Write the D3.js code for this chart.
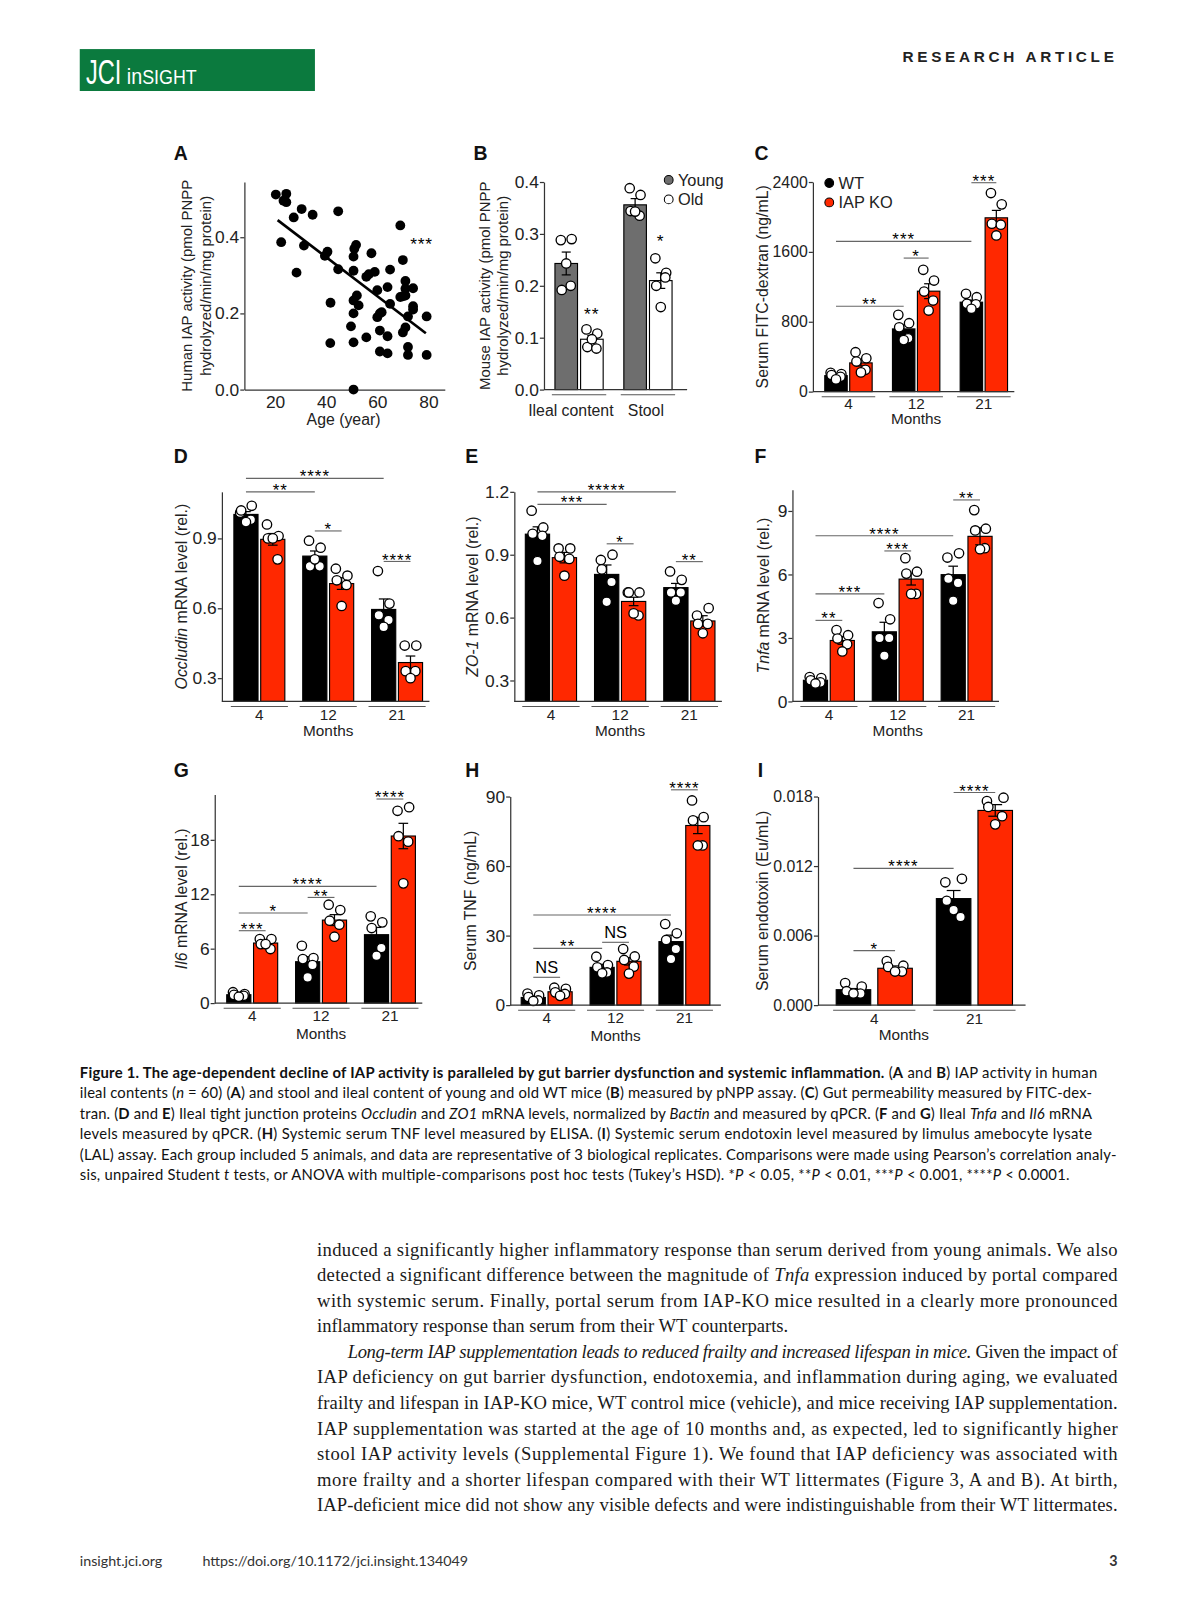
<!DOCTYPE html>
<html><head><meta charset="utf-8">
<script src="https://cdn.jsdelivr.net/npm/d3@7/dist/d3.min.js"></script>
<style>
html,body{margin:0;padding:0;background:#fff;overflow:hidden;}
svg{display:block;}
</style></head><body>
<svg id="page" width="1195" height="1600" font-family="'Liberation Sans',Arial,sans-serif"></svg>
<script>
// ---------------- DATA ----------------
// Panel A: human IAP activity vs age
const ageYears = [20.3,24.4,23.3,24.4,30.4,27.3,34.7,44.7,22.4,31.3,28.4,40.5,39.5,44.7,41.7,41.6,51.0,51.7,50.7,50.7,50.7,52.0,50.7,52.7,49.7,50.7,50.7,55.7,57.7,55.7,56.7,59.0,60.0,64.0,65.0,60.0,61.0,61.7,61.0,64.0,65.0,61.0,64.0,69.0,70.0,69.0,71.0,71.0,71.0,74.0,74.0,74.0,72.0,71.0,70.0,72.0,72.0,79.3,79.3,70.0];
const humanIAP = [0.512,0.514,0.496,0.492,0.474,0.452,0.459,0.468,0.387,0.378,0.307,0.362,0.351,0.316,0.228,0.122,0.370,0.380,0.349,0.312,0.234,0.247,0.200,0.221,0.166,0.124,0.000,0.137,0.358,0.296,0.303,0.309,0.261,0.269,0.315,0.190,0.200,0.203,0.155,0.140,0.225,0.100,0.095,0.431,0.340,0.243,0.285,0.265,0.247,0.266,0.219,0.210,0.192,0.163,0.150,0.112,0.091,0.192,0.091,0.245];
const fitAge = [21, 79];
const fitIAP = [0.445, 0.148];
const aXTicks = [20, 40, 60, 80];
const aYTicks = [0, 0.2, 0.4];

// Panel B: mouse IAP activity
const bGroups = ["Ileal content", "Stool"];
const bSeries = ["Young", "Old"];
const bYoungMean = [0.243, 0.356];
const bYoungSem = [0.022, 0.012];
const bYoungPts = [[0.288,0.290,0.192,0.200,0.243],[0.388,0.375,0.344,0.335,0.343]];
const bOldMean = [0.097, 0.210];
const bOldSem = [0.007, 0.015];
const bOldPts = [[0.116,0.108,0.082,0.079,0.097],[0.253,0.225,0.200,0.216,0.159]];
const bStars = [["Ileal content","Old",0.147,"**"],["Stool","Old",0.288,"*"]];
const bTicks = [0, 0.1, 0.2, 0.3, 0.4];

// Shared categories
const monthGroups = ["4", "12", "21"];
const monthGroupsI = ["4", "21"];
const genotypes = ["WT", "IAP KO"];

// Panel C: FITC-dextran
const fitcWTMean = [183, 718, 1024];
const fitcWTSem = [12, 45, 25];
const fitcWTPts = [[215,200,190,170,140],[879,783,737,611,590],[1120,1081,1005,1000,948]];
const fitcKOMean = [329, 1150, 1990];
const fitcKOSem = [35, 85, 85];
const fitcKOPts = [[451,382,344,250,220],[1395,1272,1146,1043,928],[2274,2144,1922,1911,1788]];
const fitcSig = [["4","WT","12","WT",978,"**"],["12","WT","12","IAP KO",1529,"*"],["4","WT","21","WT",1720,"***"],["21","WT","21","IAP KO",2392,"***"]];
const fitcTicks = [0, 800, 1600, 2400];

// Panel D: Occludin
const occWTMean = [1.003, 0.824, 0.595];
const occWTSem = [0.012, 0.022, 0.045];
const occWTPts = [[1.01,1.04,1.02,0.98,0.97],[0.89,0.86,0.78,0.78,0.81],[0.76,0.62,0.57,0.55,0.52]];
const occKOMean = [0.896, 0.706, 0.367];
const occKOSem = [0.025, 0.025, 0.028];
const occKOPts = [[0.96,0.91,0.90,0.81,0.90],[0.77,0.74,0.72,0.70,0.61],[0.44,0.44,0.33,0.33,0.30]];
const occSig = [["4","WT","12","WT",1.10,"**"],["4","WT","21","WT",1.158,"****"],["12","WT","12","IAP KO",0.932,"*"],["21","WT","21","IAP KO",0.801,"****"]];
const occTicks = [0.3, 0.6, 0.9];

// Panel E: ZO-1
const zoWTMean = [0.998, 0.806, 0.743];
const zoWTSem = [0.035, 0.045, 0.02];
const zoWTPts = [[1.11,1.03,1.00,0.99,0.87],[0.875,0.90,0.83,0.77,0.675],[0.82,0.78,0.72,0.72,0.68]];
const zoKOMean = [0.886, 0.677, 0.584];
const zoKOSem = [0.025, 0.02, 0.025];
const zoKOPts = [[0.93,0.93,0.89,0.88,0.80],[0.72,0.72,0.72,0.61,0.62],[0.61,0.645,0.57,0.57,0.525]];
const zoSig = [["4","WT","12","WT",1.14,"***"],["4","WT","21","WT",1.2,"*****"],["12","WT","12","IAP KO",0.952,"*"],["21","WT","21","IAP KO",0.867,"**"]];
const zoTicks = [0.3, 0.6, 0.9, 1.2];

// Panel F: Tnfa
const tnfaWTMean = [1.0, 3.29, 5.99];
const tnfaWTSem = [0.06, 0.45, 0.4];
const tnfaWTPts = [[1.15,1.1,1.0,0.9,0.85],[4.65,3.88,3.0,3.0,2.16],[6.8,7.0,5.8,5.6,4.76]];
const tnfaKOMean = [2.88, 5.78, 7.8];
const tnfaKOSem = [0.18, 0.28, 0.4];
const tnfaKOPts = [[3.37,3.13,2.97,2.7,2.36],[6.77,6.13,6.04,5.08,5.08],[9.04,8.16,8.08,7.24,7.19]];
const tnfaSig = [["4","WT","4","IAP KO",3.83,"**"],["4","WT","12","WT",5.08,"***"],["12","WT","12","IAP KO",7.11,"***"],["4","WT","21","WT",7.83,"****"],["21","WT","21","IAP KO",9.52,"**"]];
const tnfaTicks = [0, 3, 6, 9];

// Panel G: Il6
const il6WTMean = [0.92, 4.56, 7.54];
const il6WTSem = [0.08, 0.55, 0.8];
const il6WTPts = [[1.2,1.0,0.9,0.8,0.7],[6.32,4.96,4.85,4.19,2.83],[9.56,8.9,8.27,6.07,5.22]];
const il6KOMean = [6.62, 9.15, 18.42];
const il6KOSem = [0.25, 0.6, 1.4];
const il6KOPts = [[7.06,7.06,6.5,5.96,6.5],[10.85,10.26,9.08,8.64,7.32],[21.2,21.6,18.4,17.8,13.2]];
const il6Sig = [["4","WT","4","IAP KO",7.98,"***"],["4","WT","12","WT",9.93,"*"],["12","WT","12","IAP KO",11.65,"**"],["4","WT","21","WT",12.87,"****"],["21","WT","21","IAP KO",22.5,"****"]];
const il6Ticks = [0, 6, 12, 18];

// Panel H: serum TNF
const tnfWTMean = [3.3, 16.3, 27.4];
const tnfWTSem = [0.6, 1.3, 2.8];
const tnfWTPts = [[5.0,4.2,3.5,2.0,1.8],[20.9,17.3,16.3,14.1,13.7],[35,31,28.1,24.2,19.9]];
const tnfKOMean = [5.76, 18.9, 77.5];
const tnfKOSem = [0.6, 1.6, 3.5];
const tnfKOPts = [[7.5,7.0,5.5,4.8,4.0],[24.2,21.0,19.5,16.6,13.6],[88.3,81.1,79.7,68.9,68.9]];
const tnfSig = [["4","WT","4","IAP KO",12,"NS"],["4","WT","12","WT",24.5,"**"],["12","WT","12","IAP KO",27.1,"NS"],["4","WT","21","WT",38.9,"****"],["21","WT","21","IAP KO",92.9,"****"]];
const tnfTicks = [0, 30, 60, 90];

// Panel I: serum endotoxin
const endoWTMean = [0.00133, 0.00919];
const endoWTSem = [0.0001, 0.0007];
const endoWTPts = [[0.0019,0.0016,0.0012,0.0010,0.0010],[0.0106,0.0109,0.0090,0.0076,0.0082]];
const endoKOMean = [0.00318, 0.0168];
const endoKOSem = [0.0002, 0.0005];
const endoKOPts = [[0.0038,0.0034,0.0033,0.0029,0.0029],[0.0176,0.0179,0.0171,0.0163,0.0156]];
const endoSig = [["4","WT","4","IAP KO",0.0047,"*"],["4","WT","21","WT",0.0118,"****"],["21","WT","21","IAP KO",0.01835,"****"]];
const endoTicks = [0, 0.006, 0.012, 0.018];

// ---------------- STYLE ----------------
const RED = "#ff2800", BLACK = "#000", GRAY = "#6e6e6e", WHITE = "#fff";
const FONT = "'Liberation Sans',Arial,sans-serif";
const JIT = [-0.24, 0.24, -0.2, 0.2, 0];
const PAGE_SCALE = 1.0225;

const svg = d3.select("#page").append("g").attr("transform", `scale(${PAGE_SCALE})`);

function rich(sel, parts) {
  parts.forEach(p => {
    const t = sel.append("tspan").text(p[0]);
    if (p[1] && p[1].includes("b")) t.attr("font-weight", "bold");
    if (p[1] && p[1].includes("i")) t.attr("font-style", "italic");
  });
}
function styleAxis(g, fs) {
  g.attr("font-size", fs || 17).attr("font-family", FONT);
  g.selectAll("text").attr("fill", "#222");
  g.selectAll("line,path").attr("stroke", "#333").attr("stroke-width", 1.2);
}
function yTitle(lines, yc, fs) {
  lines.forEach(l => {
    const t = svg.append("text").attr("transform", `translate(${l.x},${yc}) rotate(-90)`)
      .attr("text-anchor", "middle").attr("dominant-baseline", "central")
      .attr("font-size", fs || 15.5).attr("fill", "#222");
    rich(t, l.parts);
  });
}
function panelLetter(s, x, y) {
  svg.append("text").attr("x", x).attr("y", y).text(s).attr("font-size", 19).attr("font-weight", "bold").attr("fill", "#111");
}

// ---------------- HEADER ----------------
svg.append("rect").attr("x", 78).attr("y", 48).attr("width", 230).attr("height", 41).attr("fill", "#0b7a3e");
svg.append("text").attr("transform", "translate(84,82) scale(0.68,1)").attr("font-size", 34).attr("fill", "#fff").text("JCI");
svg.append("text").attr("transform", "translate(124,82) scale(0.92,1)").attr("font-size", 21).attr("fill", "#fff")
  .call(t => { t.append("tspan").text("in"); t.append("tspan").attr("font-size", 19).text("SIGHT"); });
svg.append("text").attr("x", 1093).attr("y", 61).attr("text-anchor", "end").attr("font-size", 15).attr("font-weight", "bold")
  .attr("letter-spacing", 3.6).attr("fill", "#222").text("RESEARCH ARTICLE");

// ---------------- PANEL A ----------------
(function () {
  const L = { ox: 239, oy: 381, top: 178, right: 435 };
  const x = d3.scaleLinear().domain([8, 86.4]).range([L.ox, L.right]);
  const y = d3.scaleLinear().domain([0, 0.545]).range([L.oy, L.top]);
  const ga = svg.append("g").attr("transform", `translate(${L.ox},0)`)
    .call(d3.axisLeft(y).tickValues(aYTicks).tickFormat(d3.format(".1f")).tickSize(4).tickSizeOuter(0).tickPadding(1));
  styleAxis(ga);
  const gx = svg.append("g").attr("transform", `translate(0,${L.oy})`)
    .call(d3.axisBottom(x).tickValues(aXTicks).tickSize(0).tickSizeOuter(0).tickPadding(6));
  styleAxis(gx);
  svg.append("g").selectAll("circle").data(ageYears).join("circle")
    .attr("cx", (d) => x(d)).attr("cy", (d, i) => y(humanIAP[i])).attr("r", 4.8).attr("fill", "#000");
  svg.append("line").attr("x1", x(fitAge[0])).attr("y1", y(fitIAP[0])).attr("x2", x(fitAge[1])).attr("y2", y(fitIAP[1]))
    .attr("stroke", "#000").attr("stroke-width", 2.6);
  svg.append("text").attr("x", x(77.3)).attr("y", y(0.384) + 7).attr("text-anchor", "middle").attr("font-size", 17).attr("letter-spacing", 0.8).text("***");
  svg.append("text").attr("x", (x(20) + x(80)) / 2 - 8).attr("y", L.oy + 35).attr("text-anchor", "middle").attr("font-size", 15.5).attr("fill", "#222").text("Age (year)");
  yTitle([{ x: 182, parts: [["Human IAP activity (pmol PNPP"]] }, { x: 200, parts: [["hydrolyzed/min/mg protein)"]] }], (L.oy + L.top) / 2, 14.6);
  panelLetter("A", 170, 156);
})();

// ---------------- GENERIC BAR PANEL ----------------
function barPanel(c) {
  const y = d3.scaleLinear().domain(c.domain).range([c.oy, c.top]);
  const x0 = d3.scaleBand().domain(c.groups).range(c.band).paddingInner(c.pi).paddingOuter(c.po);
  const x1 = d3.scaleBand().domain(c.series.map(s => s.name)).range([0, x0.bandwidth()]).paddingInner(c.ip);
  const bw = x1.bandwidth();
  const cx = (g, s) => x0(g) + x1(s) + bw / 2;
  const g = svg.append("g");
  c.series.forEach(s => {
    g.append("g").selectAll("rect").data(c.groups).join("rect")
      .attr("x", d => x0(d) + x1(s.name)).attr("width", bw)
      .attr("y", (d, i) => y(s.mean[i])).attr("height", (d, i) => c.oy - y(s.mean[i]))
      .attr("fill", s.fill).attr("stroke", "#000").attr("stroke-width", 1.1);
  });
  c.series.forEach(s => {
    c.groups.forEach((gr, i) => {
      const xc = cx(gr, s.name), cw = bw * 0.2;
      const lo = y(s.mean[i] - s.sem[i]), hi = y(s.mean[i] + s.sem[i]);
      g.append("line").attr("x1", xc).attr("x2", xc).attr("y1", lo).attr("y2", hi).attr("stroke", "#000").attr("stroke-width", 1.2);
      g.append("line").attr("x1", xc - cw).attr("x2", xc + cw).attr("y1", hi).attr("y2", hi).attr("stroke", "#000").attr("stroke-width", 1.2);
      g.append("line").attr("x1", xc - cw).attr("x2", xc + cw).attr("y1", lo).attr("y2", lo).attr("stroke", "#000").attr("stroke-width", 1.2);
    });
  });
  c.series.forEach(s => {
    c.groups.forEach((gr, i) => {
      g.append("g").selectAll("circle").data(s.pts[i]).join("circle")
        .attr("cx", (d, j) => cx(gr, s.name) + JIT[j % JIT.length] * bw)
        .attr("cy", d => y(d)).attr("r", 4.6)
        .attr("fill", "#fff").attr("stroke", "#000").attr("stroke-width", 1.3);
    });
  });
  const ga = svg.append("g").attr("transform", `translate(${c.ox},0)`)
    .call(d3.axisLeft(y).tickValues(c.ticks).tickFormat(c.fmt).tickSize(4).tickSizeOuter(0).tickPadding(1));
  styleAxis(ga, c.tickFs);
  svg.append("line").attr("x1", c.ox).attr("x2", c.right).attr("y1", c.oy).attr("y2", c.oy).attr("stroke", "#333").attr("stroke-width", 1.2);
  c.groups.forEach((gr, gi) => {
    svg.append("line").attr("x1", x0(gr) - 3).attr("x2", x0(gr) + x0.bandwidth() + 3)
      .attr("y1", c.oy + 5).attr("y2", c.oy + 5).attr("stroke", "#555").attr("stroke-width", 1);
    svg.append("text").attr("x", x0(gr) + x0.bandwidth() / 2 + (c.labelShift ? c.labelShift[gi] : 0)).attr("y", c.oy + c.labelDy)
      .attr("text-anchor", "middle").attr("font-size", c.labelFs || 15).attr("fill", "#222").text(gr);
  });
  if (c.xTitle) {
    const mid = (c.band[0] + c.band[1]) / 2 + (c.xTitleShift || 0);
    svg.append("text").attr("x", mid).attr("y", c.oy + c.titleDy).attr("text-anchor", "middle")
      .attr("font-size", 15).attr("fill", "#222").text(c.xTitle);
  }
  (c.sig || []).forEach(sg => {
    const xa = cx(sg[0], sg[1]), xb = cx(sg[2], sg[3]), yy = y(sg[4]);
    svg.append("line").attr("x1", xa).attr("x2", xb).attr("y1", yy).attr("y2", yy).attr("stroke", "#666").attr("stroke-width", 1.1);
    const ns = sg[5] === "NS";
    svg.append("text").attr("x", (xa + xb) / 2).attr("y", ns ? yy - 4 : yy + 4).attr("text-anchor", "middle")
      .attr("font-size", ns ? 16 : 16.5).attr("letter-spacing", ns ? 0 : 1)
      .attr("fill", "#000").text(sg[5]);
  });
  (c.stars || []).forEach(st => {
    svg.append("text").attr("x", cx(st[0], st[1])).attr("y", y(st[2]) + 7).attr("text-anchor", "middle")
      .attr("font-size", 17).attr("letter-spacing", 1).text(st[3]);
  });
  yTitle(c.ytitle, (c.oy + c.top) / 2 + (c.ytShift || 0), c.ytFs);
  panelLetter(c.letter, c.lx, c.ly);
}

const fmtD = d3.format("d"), fmt1 = d3.format(".1f"), fmt3 = d3.format(".3f");
const gf = (m, s, p) => ({ mean: m, sem: s, pts: p });

barPanel({ letter: "B", lx: 463, ly: 156, ox: 532, oy: 381, top: 178, right: 672, band: [536, 664], pi: 0.3, po: 0.1, ip: 0.12,
  domain: [0, 0.4], ticks: bTicks, fmt: fmt1, groups: bGroups, labelDy: 26, labelFs: 15.5, ytFs: 14.6, labelShift: [-8, -2],
  series: [Object.assign({ name: bSeries[0], fill: GRAY }, gf(bYoungMean, bYoungSem, bYoungPts)),
           Object.assign({ name: bSeries[1], fill: WHITE }, gf(bOldMean, bOldSem, bOldPts))],
  stars: bStars,
  ytitle: [{ x: 473, parts: [["Mouse IAP activity (pmol PNPP"]] }, { x: 491, parts: [["hydrolyzed/min/mg protein)"]] }] });

barPanel({ letter: "C", lx: 738, ly: 156, ox: 795, oy: 383, top: 178, right: 992, band: [800, 992], pi: 0.3, po: 0.1, ip: 0.1, tickFs: 15.5,
  domain: [0, 2400], ticks: fitcTicks, fmt: fmtD, groups: monthGroups, labelDy: 17, xTitle: "Months", titleDy: 32,
  series: [Object.assign({ name: genotypes[0], fill: BLACK }, gf(fitcWTMean, fitcWTSem, fitcWTPts)),
           Object.assign({ name: genotypes[1], fill: RED }, gf(fitcKOMean, fitcKOSem, fitcKOPts))],
  sig: fitcSig, ytitle: [{ x: 745, parts: [["Serum FITC-dextran (ng/mL)"]] }] });

barPanel({ letter: "D", lx: 170, ly: 453, ox: 217, oy: 686, top: 481, right: 420, band: [222, 420], pi: 0.26, po: 0.1, ip: 0.1,
  domain: [0.2, 1.1], ticks: occTicks, fmt: fmt1, groups: monthGroups, labelDy: 18, xTitle: "Months", titleDy: 34,
  series: [Object.assign({ name: genotypes[0], fill: BLACK }, gf(occWTMean, occWTSem, occWTPts)),
           Object.assign({ name: genotypes[1], fill: RED }, gf(occKOMean, occKOSem, occKOPts))],
  sig: occSig, ytitle: [{ x: 177, parts: [["Occludin", "i"], [" mRNA level (rel.)"]] }] });

barPanel({ letter: "E", lx: 455, ly: 453, ox: 503, oy: 686, top: 481, right: 706, band: [507, 706], pi: 0.26, po: 0.1, ip: 0.1,
  domain: [0.2, 1.2], ticks: zoTicks, fmt: fmt1, groups: monthGroups, labelDy: 18, xTitle: "Months", titleDy: 34,
  series: [Object.assign({ name: genotypes[0], fill: BLACK }, gf(zoWTMean, zoWTSem, zoWTPts)),
           Object.assign({ name: genotypes[1], fill: RED }, gf(zoKOMean, zoKOSem, zoKOPts))],
  sig: zoSig, ytitle: [{ x: 462, parts: [["ZO-1", "i"], [" mRNA level (rel.)"]] }] });

barPanel({ letter: "F", lx: 738, ly: 453, ox: 775, oy: 686, top: 479, right: 977, band: [779, 977], pi: 0.26, po: 0.1, ip: 0.1,
  domain: [0, 10], ticks: tnfaTicks, fmt: fmtD, groups: monthGroups, labelDy: 18, xTitle: "Months", titleDy: 34,
  series: [Object.assign({ name: genotypes[0], fill: BLACK }, gf(tnfaWTMean, tnfaWTSem, tnfaWTPts)),
           Object.assign({ name: genotypes[1], fill: RED }, gf(tnfaKOMean, tnfaKOSem, tnfaKOPts))],
  sig: tnfaSig, ytitle: [{ x: 746, parts: [["Tnfa", "i"], [" mRNA level (rel.)"]] }] });

barPanel({ letter: "G", lx: 170, ly: 760, ox: 210, oy: 981, top: 777, right: 413, band: [215, 413], pi: 0.26, po: 0.1, ip: 0.1,
  domain: [0, 23], ticks: il6Ticks, fmt: fmtD, groups: monthGroups, labelDy: 18, xTitle: "Months", titleDy: 35,
  series: [Object.assign({ name: genotypes[0], fill: BLACK }, gf(il6WTMean, il6WTSem, il6WTPts)),
           Object.assign({ name: genotypes[1], fill: RED }, gf(il6KOMean, il6KOSem, il6KOPts))],
  sig: il6Sig, ytitle: [{ x: 177, parts: [["Il6", "i"], [" mRNA level (rel.)"]] }] });

barPanel({ letter: "H", lx: 455, ly: 760, ox: 499, oy: 983, top: 779, right: 705, band: [503, 701], pi: 0.26, po: 0.1, ip: 0.1,
  domain: [0, 90], ticks: tnfTicks, fmt: fmtD, groups: monthGroups, labelDy: 17, xTitle: "Months", titleDy: 35,
  series: [Object.assign({ name: genotypes[0], fill: BLACK }, gf(tnfWTMean, tnfWTSem, tnfWTPts)),
           Object.assign({ name: genotypes[1], fill: RED }, gf(tnfKOMean, tnfKOSem, tnfKOPts))],
  sig: tnfSig, ytitle: [{ x: 460, parts: [["Serum TNF (ng/mL)"]] }] });

barPanel({ letter: "I", lx: 741, ly: 760, ox: 800, oy: 983, top: 779, right: 1003, band: [808, 1000], pi: 0.24, po: 0.1, ip: 0.17, tickFs: 15.5,
  domain: [0, 0.018], ticks: endoTicks, fmt: fmt3, groups: monthGroupsI, labelDy: 18, xTitle: "Months", titleDy: 34, xTitleShift: -20,
  series: [Object.assign({ name: genotypes[0], fill: BLACK }, gf(endoWTMean, endoWTSem, endoWTPts)),
           Object.assign({ name: genotypes[1], fill: RED }, gf(endoKOMean, endoKOSem, endoKOPts))],
  sig: endoSig, ytitle: [{ x: 745, parts: [["Serum endotoxin (Eu/mL)"]] }] });

function legend(items, x, y0, dy) {
  items.forEach((it, i) => {
    svg.append("circle").attr("cx", x).attr("cy", y0 + i * dy).attr("r", 4.3).attr("fill", it.fill).attr("stroke", "#000").attr("stroke-width", 1);
    svg.append("text").attr("x", x + 9).attr("y", y0 + i * dy + 5.5).attr("font-size", 16).attr("fill", "#222").text(it.name);
  });
}
legend([{ name: bSeries[0], fill: GRAY }, { name: bSeries[1], fill: WHITE }], 654, 176, 19);
legend([{ name: genotypes[0], fill: BLACK }, { name: genotypes[1], fill: RED }], 811, 179, 19);

// ---------------- CAPTION ----------------
const captionLines = [
  [["Figure 1. The age-dependent decline of IAP activity is paralleled by gut barrier dysfunction and systemic inflammation.", "b"], [" ("], ["A", "b"], [" and "], ["B", "b"], [") IAP activity in human"]],
  [["ileal contents ("], ["n", "i"], [" = 60) ("], ["A", "b"], [") and stool and ileal content of young and old WT mice ("], ["B", "b"], [") measured by pNPP assay. ("], ["C", "b"], [") Gut permeability measured by FITC-dex-"]],
  [["tran. ("], ["D", "b"], [" and "], ["E", "b"], [") Ileal tight junction proteins "], ["Occludin", "i"], [" and "], ["ZO1", "i"], [" mRNA levels, normalized by "], ["Bactin", "i"], [" and measured by qPCR. ("], ["F", "b"], [" and "], ["G", "b"], [") Ileal "], ["Tnfa", "i"], [" and "], ["Il6", "i"], [" mRNA"]],
  [["levels measured by qPCR. ("], ["H", "b"], [") Systemic serum TNF level measured by ELISA. ("], ["I", "b"], [") Systemic serum endotoxin level measured by limulus amebocyte lysate"]],
  [["(LAL) assay. Each group included 5 animals, and data are representative of 3 biological replicates. Comparisons were made using Pearson’s correlation analy-"]],
  [["sis, unpaired Student "], ["t", "i"], [" tests, or ANOVA with multiple-comparisons post hoc tests (Tukey’s HSD). *"], ["P", "i"], [" < 0.05, **"], ["P", "i"], [" < 0.01, ***"], ["P", "i"], [" < 0.001, ****"], ["P", "i"], [" < 0.0001."]]
];
const captionWidths = [995, 990, 990, 990, 1014, 968];
captionLines.forEach((ln, i) => {
  const t = svg.append("text").attr("x", 78).attr("y", 1054 + i * 20).attr("font-family", "Lato, 'Noto Sans', sans-serif")
    .attr("font-size", 14.5).attr("fill", "#111").attr("textLength", captionWidths[i]).attr("lengthAdjust", "spacing");
  rich(t, ln);
});

// ---------------- BODY TEXT ----------------
const bodyLines = [
  { x: 310, w: 783, parts: [["induced a significantly higher inflammatory response than serum derived from young animals. We also"]] },
  { x: 310, w: 783, parts: [["detected a significant difference between the magnitude of "], ["Tnfa", "i"], [" expression induced by portal compared"]] },
  { x: 310, w: 783, parts: [["with systemic serum. Finally, portal serum from IAP-KO mice resulted in a clearly more pronounced"]] },
  { x: 310, w: 0, parts: [["inflammatory response than serum from their WT counterparts."]] },
  { x: 340, w: 753, parts: [["Long-term IAP supplementation leads to reduced frailty and increased lifespan in mice.", "i"], [" Given the impact of"]] },
  { x: 310, w: 783, parts: [["IAP deficiency on gut barrier dysfunction, endotoxemia, and inflammation during aging, we evaluated"]] },
  { x: 310, w: 783, parts: [["frailty and lifespan in IAP-KO mice, WT control mice (vehicle), and mice receiving IAP supplementation."]] },
  { x: 310, w: 783, parts: [["IAP supplementation was started at the age of 10 months and, as expected, led to significantly higher"]] },
  { x: 310, w: 783, parts: [["stool IAP activity levels (Supplemental Figure 1). We found that IAP deficiency was associated with"]] },
  { x: 310, w: 783, parts: [["more frailty and a shorter lifespan compared with their WT littermates (Figure 3, A and B). At birth,"]] },
  { x: 310, w: 783, parts: [["IAP-deficient mice did not show any visible defects and were indistinguishable from their WT littermates."]] }
];
bodyLines.forEach((ln, i) => {
  const t = svg.append("text").attr("x", ln.x).attr("y", 1228 + i * 25).attr("font-family", "'Liberation Serif','Times New Roman',serif")
    .attr("font-size", 18.2).attr("fill", "#1a1a1a");
  if (ln.w) t.attr("textLength", ln.w).attr("lengthAdjust", "spacing");
  rich(t, ln.parts);
});

// ---------------- FOOTER ----------------
svg.append("text").attr("x", 78).attr("y", 1532).attr("font-family", "Lato, sans-serif").attr("font-size", 14).attr("fill", "#333").text("insight.jci.org");
svg.append("text").attr("x", 198).attr("y", 1532).attr("font-family", "Lato, sans-serif").attr("font-size", 14).attr("fill", "#333").text("https://doi.org/10.1172/jci.insight.134049");
svg.append("text").attr("x", 1093).attr("y", 1532).attr("text-anchor", "end").attr("font-family", "Lato, sans-serif").attr("font-weight", "bold").attr("font-size", 14).attr("fill", "#333").text("3");
</script>
</body></html>
